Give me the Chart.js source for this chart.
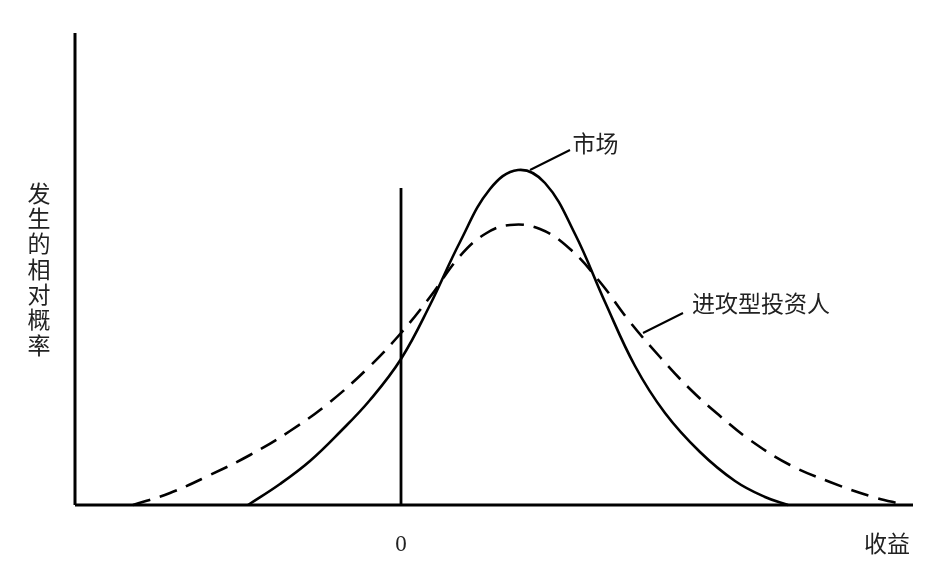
<!DOCTYPE html>
<html>
<head>
<meta charset="utf-8">
<script src="https://cdn.jsdelivr.net/npm/chart.js@4/dist/chart.umd.min.js"></script>
<style>
    html, body { margin: 0; padding: 0; background: #fff; }
    #wrap { width: 934px; height: 581px; }
</style>
</head>
<body>
<div id="wrap"><canvas id="chart" width="934" height="581"></canvas></div>
<script>
// axis range (x: return, y: relative probability)
const X_MIN = -32.6, X_MAX = 51.2;
const Y_MIN = 0, Y_MAX = 47.2;

// 市场 (solid)
const marketX = [-15.3, -12.1, -9.1, -6.1, -3.1, 0, 2.9, 5.9, 8.9, 11.7, 14.4, 17.4, 20.4, 23.4, 26.4, 29.9, 33.4, 36.4, 38.7];
const marketY = [0, 2.1, 4.4, 7.3, 10.5, 14.6, 20.0, 26.3, 31.6, 33.5, 32.2, 27.1, 20.3, 13.9, 9.2, 5.3, 2.4, 0.8, 0];

// 进攻型投资人 (dashed)
const aggrX = [-26.8, -23.1, -19.1, -15.1, -11.1, -7.1, -3.1, 0, 2.9, 5.9, 8.4, 10.9, 13.9, 16.9, 19.9, 22.9, 25.9, 28.9, 31.9, 34.9, 38.9, 42.9, 46.9, 50.4];
const aggrY = [0, 1.2, 3.0, 5.0, 7.4, 10.3, 13.9, 17.2, 20.8, 24.9, 27.1, 28.0, 27.6, 25.6, 22.3, 18.3, 14.8, 11.6, 8.9, 6.5, 4.0, 2.3, 0.9, 0];

// zero-return marker and leader lines
const zeroLineTop = 31.7;
const marketLeader = [[12.9, 33.5], [16.9, 35.5]];
const aggrLeader = [[24.2, 17.2], [28.2, 19.2]];

// text labels [text, x, y] in data units
const zeroLabel = ['0', 0, -4.0];
const xTitle = ['收益', 48.6, -3.8];
const yTitle = ['发', '生', '的', '相', '对', '概', '率'];
const seriesLabels = [['市场', 19.45, 36.2], ['进攻型投资人', 36.0, 20.2]];

const toPts = (xs, ys) => xs.map((x, i) => ({ x: x, y: ys[i] }));
const pairPts = arr => arr.map(p => ({ x: p[0], y: p[1] }));

const plain = (data, width, extra) => Object.assign({
    data: data,
    borderColor: '#000',
    borderWidth: width,
    pointRadius: 0,
    fill: false,
    clip: false,
    tension: 0
}, extra || {});

const textPlugin = {
    id: 'textLabels',
    afterDraw(chart) {
        const ctx = chart.ctx;
        const xs = chart.scales.x, ys = chart.scales.y;
        ctx.save();
        ctx.textAlign = 'center';
        ctx.textBaseline = 'middle';
        ctx.fillStyle = '#222';

        ctx.font = '23px "Liberation Serif", serif';
        ctx.fillText(zeroLabel[0], xs.getPixelForValue(zeroLabel[1]), ys.getPixelForValue(zeroLabel[2]));

        ctx.font = '23px "Noto Sans CJK SC", sans-serif';
        ctx.fillText(xTitle[0], xs.getPixelForValue(xTitle[1]), ys.getPixelForValue(xTitle[2]));
        seriesLabels.forEach(l => {
            ctx.fillText(l[0], xs.getPixelForValue(l[1]), ys.getPixelForValue(l[2]));
        });

        // vertical y title, one character per line
        const cx = 39, top = 193, step = 25.3;
        yTitle.forEach((ch, i) => ctx.fillText(ch, cx, top + i * step));
        ctx.restore();
    }
};

new Chart(document.getElementById('chart'), {
    type: 'line',
    data: {
        datasets: [
            plain(toPts(marketX, marketY), 2.6, { tension: 0.4 }),
            plain(toPts(aggrX, aggrY), 2.6, { tension: 0.4, borderDash: [18, 10] }),
            plain([{ x: 0, y: 0 }, { x: 0, y: zeroLineTop }], 2.8),
            plain([{ x: X_MIN, y: Y_MIN }, { x: X_MIN, y: Y_MAX }], 3),
            plain([{ x: X_MIN, y: Y_MIN }, { x: X_MAX, y: Y_MIN }], 3),
            plain(pairPts(marketLeader), 2),
            plain(pairPts(aggrLeader), 2)
        ]
    },
    options: {
        responsive: false,
        animation: false,
        devicePixelRatio: 1,
        layout: { padding: { left: 75, right: 21, top: 33, bottom: 76 } },
        plugins: {
            legend: { display: false },
            tooltip: { enabled: false }
        },
        scales: {
            x: { type: 'linear', min: X_MIN, max: X_MAX, display: false },
            y: { type: 'linear', min: Y_MIN, max: Y_MAX, display: false }
        }
    },
    plugins: [textPlugin]
});
</script>
</body>
</html>
